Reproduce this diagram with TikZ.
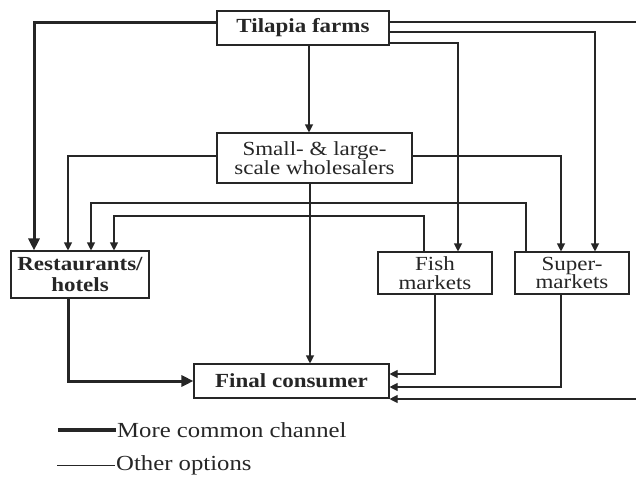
\documentclass[tikz,border=0pt]{standalone}
\usepackage{fontspec}
\setmainfont[FakeStretch=1.15]{Liberation Serif}
\usetikzlibrary{arrows.meta,calc}
\definecolor{ink}{HTML}{262626}
\tikzset{
  box/.style={draw=ink, line width=1.1pt, fill=white, inner sep=0pt, align=center,
    font=\fontsize{20}{19.5}\selectfont, text=ink},
  boldbox/.style={box, font=\fontsize{20}{20.5}\selectfont\bfseries},
  marketbox/.style={box, minimum width=114pt, minimum height=42pt, font=\fontsize{20}{18.5}\selectfont},
  thin/.style={draw=ink, line width=1.1pt},
  thick/.style={draw=ink, line width=3pt},
  tarr/.style={thin, -{Triangle[length=8pt,width=8pt]}},
  barr/.style={thick, -{Triangle[length=12pt,width=11pt]}},
  legendtext/.style={anchor=west, inner sep=1pt, font=\fontsize{21.5}{21.5}\selectfont, text=ink},
}
\begin{document}
\begin{tikzpicture}[x=1pt, y=-1pt]
\useasboundingbox (0,0) rectangle (636,501);

% boxes
\node[boldbox, minimum width=172pt, minimum height=34pt] (tf) at (303,28) {Tilapia farms};
\node[box, minimum width=195pt, minimum height=50pt] (ws) at (314.5,158) {Small- \& large-\\scale wholesalers};
\node[boldbox, minimum width=138pt, minimum height=47pt] (rh) at (80,274.5) {Restaurants/\\hotels};
\node[marketbox] (fm) at (435,273) {Fish\\markets};
\node[marketbox] (sm) at (572,273) {Super-\\markets};
\node[boldbox, minimum width=195pt, minimum height=34pt] (fc) at (291.5,381) {Final consumer};

% off-picture ends of the loop on the right
\coordinate (loopTop) at (636,22);
\coordinate (loopBot) at (636,399);

% from the farms
\draw[barr] (tf.west |- 0,22) -- (34,22) -- (rh.north -| 34,0);
\draw[thin] (tf.east |- loopTop) -- (loopTop);
\draw[tarr] (tf.east |- 0,32) -| (sm.north -| 595,0);
\draw[tarr] (tf.east |- 0,43) -| (fm.north -| 458,0);
\draw[tarr] (tf.south -| 309,0) -- (ws.north -| 309,0);

% from the wholesalers
\draw[tarr] (ws.west |- 0,156) -| (rh.north -| 68,0);
\draw[tarr] (ws.east |- 0,156) -| (sm.north -| 561,0);
\draw[tarr] (ws.south -| 310,0) -- (fc.north -| 310,0);

% from the markets back to restaurants
\draw[tarr] (fm.north -| 424,0) |- (114,216) -- (rh.north -| 114,0);
\draw[tarr] (sm.north -| 526,0) |- (91,203) -- (rh.north -| 91,0);

% to the final consumer
\draw[barr] (rh.south -| 68,0) |- (fc.west);
\draw[tarr] (fm.south -| 435,0) |- (fc.east |- 0,374);
\draw[tarr] (sm.south -| 561,0) |- (fc.east |- 0,387);
\draw[tarr] (loopBot) -- (fc.east |- loopBot);

% legend
\node[legendtext] (lg1) at (116,430) {More common channel};
\node[legendtext] (lg2) at (115,465) {Other options};
\coordinate (lg1s) at (58,430);
\coordinate (lg2s) at (57,465);
\draw[thick, line width=3.5pt] (lg1s) -- (lg1.west);
\draw[thin, line width=0.9pt] (lg2s) -- (lg2.west);
\end{tikzpicture}
\end{document}
